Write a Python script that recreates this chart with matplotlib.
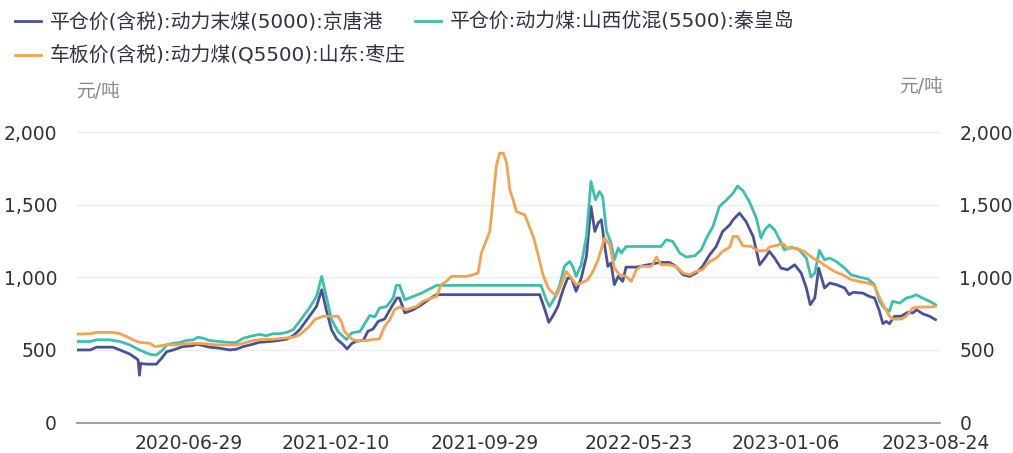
import pandas as pd
import matplotlib
matplotlib.use("Agg")
import matplotlib.pyplot as plt
from matplotlib.ticker import FuncFormatter

plt.rcParams['font.family'] = ['DejaVu Sans', 'Noto Sans CJK SC']

# 平仓价(含税):动力末煤(5000):京唐港
jtg_dates = [
    "2020-01-08", "2020-01-29", "2020-02-08", "2020-03-04", "2020-03-15", "2020-03-30",
    "2020-04-09", "2020-04-12", "2020-04-14", "2020-04-16", "2020-04-25", "2020-05-10",
    "2020-05-18", "2020-05-26", "2020-06-05", "2020-06-20", "2020-07-06", "2020-07-11",
    "2020-07-21", "2020-07-31", "2020-08-16", "2020-08-31", "2020-09-10", "2020-09-21",
    "2020-10-06", "2020-10-16", "2020-11-01", "2020-11-11", "2020-11-27", "2020-12-07",
    "2020-12-17", "2021-01-01", "2021-01-12", "2021-01-20", "2021-01-27", "2021-02-04",
    "2021-02-12", "2021-02-22", "2021-02-28", "2021-03-07", "2021-03-14", "2021-03-25",
    "2021-04-01", "2021-04-09", "2021-04-17", "2021-04-27", "2021-05-05", "2021-05-16",
    "2021-05-20", "2021-05-28", "2021-06-10", "2021-06-23", "2021-07-05", "2021-07-16",
    "2021-12-22", "2021-12-30", "2022-01-05", "2022-01-11", "2022-01-19", "2022-01-27",
    "2022-02-03", "2022-02-09", "2022-02-16", "2022-02-24", "2022-03-04", "2022-03-11",
    "2022-03-17", "2022-03-22", "2022-03-27", "2022-04-01", "2022-04-06", "2022-04-11",
    "2022-04-16", "2022-04-22", "2022-04-29", "2022-05-04", "2022-05-20", "2022-06-25",
    "2022-07-10", "2022-07-20", "2022-07-31", "2022-08-10", "2022-08-20", "2022-08-30",
    "2022-09-10", "2022-09-20", "2022-09-30", "2022-10-11", "2022-10-16", "2022-10-26",
    "2022-11-05", "2022-11-16", "2022-11-23", "2022-11-26", "2022-12-04", "2022-12-11",
    "2022-12-19", "2022-12-29", "2023-01-08", "2023-01-19", "2023-01-29", "2023-02-06",
    "2023-02-12", "2023-02-19", "2023-02-25", "2023-03-06", "2023-03-14", "2023-03-24",
    "2023-04-06", "2023-04-13", "2023-04-19", "2023-05-04", "2023-05-14", "2023-05-22",
    "2023-05-29", "2023-06-04", "2023-06-09", "2023-06-14", "2023-06-22", "2023-07-02",
    "2023-07-12", "2023-07-20", "2023-07-26", "2023-08-04", "2023-08-15", "2023-08-24",
]
jtg_vals = [
    500, 500, 519, 519, 500, 472,
    442, 430, 326, 407, 402, 402,
    442, 488, 500, 523, 530, 540,
    530, 519, 512, 500, 505, 523,
    540, 553, 558, 563, 574, 598,
    640, 732, 800, 915, 777, 640,
    576, 537, 507, 543, 560, 565,
    628, 644, 697, 713, 777, 858,
    858, 755, 777, 812, 851, 881,
    881, 777, 690, 732, 800, 915,
    995, 995, 904, 995, 1145, 1489,
    1317, 1374, 1397, 1225, 1076, 1099,
    950, 1007, 972, 1071, 1071, 1103,
    1103, 1076, 1018, 1007, 1030, 1076,
    1156, 1213, 1317, 1362, 1397, 1443,
    1385, 1282, 1145, 1087, 1133, 1179,
    1133, 1064, 1053, 1087, 1030, 927,
    812, 858, 1064, 927, 961, 950,
    927, 881, 897, 892, 869, 858,
    777, 681, 697, 681, 732, 732,
    759, 755, 777, 750, 732, 709,
]

# 平仓价:动力煤:山西优混(5500):秦皇岛
qhd_dates = [
    "2020-01-08", "2020-01-29", "2020-02-08", "2020-02-28", "2020-03-15", "2020-03-30",
    "2020-04-14", "2020-04-30", "2020-05-10", "2020-05-20", "2020-05-26", "2020-06-05",
    "2020-06-15", "2020-06-25", "2020-07-06", "2020-07-13", "2020-07-21", "2020-07-31",
    "2020-08-16", "2020-08-31", "2020-09-10", "2020-09-21", "2020-10-06", "2020-10-16",
    "2020-10-27", "2020-11-06", "2020-11-16", "2020-11-27", "2020-12-07", "2020-12-17",
    "2021-01-01", "2021-01-12", "2021-01-20", "2021-01-27", "2021-02-04", "2021-02-14",
    "2021-02-27", "2021-03-07", "2021-03-20", "2021-04-04", "2021-04-12", "2021-04-19",
    "2021-04-30", "2021-05-10", "2021-05-15", "2021-05-20", "2021-05-28", "2021-06-10",
    "2021-06-23", "2021-07-05", "2021-07-16", "2021-12-24", "2022-01-01", "2022-01-06",
    "2022-01-14", "2022-01-22", "2022-01-29", "2022-02-06", "2022-02-11", "2022-02-16",
    "2022-02-24", "2022-03-04", "2022-03-11", "2022-03-18", "2022-03-24", "2022-03-29",
    "2022-04-04", "2022-04-11", "2022-04-16", "2022-04-22", "2022-04-27", "2022-05-04",
    "2022-06-27", "2022-07-05", "2022-07-15", "2022-07-26", "2022-08-05", "2022-08-18",
    "2022-08-28", "2022-09-05", "2022-09-15", "2022-09-25", "2022-10-05", "2022-10-16",
    "2022-10-23", "2022-10-31", "2022-11-10", "2022-11-21", "2022-11-28", "2022-12-04",
    "2022-12-11", "2022-12-19", "2022-12-27", "2023-01-03", "2023-01-14", "2023-01-26",
    "2023-02-06", "2023-02-13", "2023-02-19", "2023-02-26", "2023-03-06", "2023-03-14",
    "2023-03-24", "2023-04-06", "2023-04-16", "2023-04-29", "2023-05-12", "2023-05-22",
    "2023-05-30", "2023-06-06", "2023-06-14", "2023-06-19", "2023-06-30", "2023-07-10",
    "2023-07-20", "2023-07-25", "2023-08-04", "2023-08-15", "2023-08-24",
]
qhd_vals = [
    558, 558, 570, 570, 558, 535,
    500, 470, 465, 500, 535, 546,
    551, 565, 570, 588, 581, 565,
    558, 551, 551, 581, 598, 607,
    598, 612, 612, 621, 640, 698,
    789, 869, 1007, 869, 709, 628,
    571, 617, 628, 738, 728, 789,
    800, 858, 945, 945, 846, 869,
    892, 920, 945, 945, 846, 800,
    858, 950, 1076, 1110, 1076, 1007,
    1087, 1282, 1661, 1534, 1592, 1557,
    1317, 1236, 1122, 1202, 1167, 1213,
    1213, 1259, 1248, 1167, 1140, 1149,
    1190, 1271, 1351, 1489, 1530, 1580,
    1630, 1599, 1523, 1408, 1271, 1328,
    1362, 1328, 1259, 1190, 1209, 1190,
    1133, 1002, 1030, 1186, 1122, 1133,
    1110, 1064, 1018, 1002, 989, 950,
    835, 789, 766, 835, 823, 858,
    869, 881, 858, 835, 812,
]

# 车板价(含税):动力煤(Q5500):山东:枣庄
zz_dates = [
    "2020-01-08", "2020-01-29", "2020-02-08", "2020-03-04", "2020-03-15", "2020-03-25",
    "2020-04-04", "2020-04-14", "2020-04-30", "2020-05-08", "2020-05-15", "2020-05-26",
    "2020-06-10", "2020-06-25", "2020-07-11", "2020-07-26", "2020-08-11", "2020-09-10",
    "2020-09-21", "2020-10-06", "2020-10-22", "2020-11-06", "2020-11-21", "2020-12-07",
    "2020-12-17", "2021-01-01", "2021-01-09", "2021-01-22", "2021-02-14", "2021-02-19",
    "2021-02-24", "2021-03-07", "2021-03-14", "2021-03-30", "2021-04-06", "2021-04-19",
    "2021-04-27", "2021-05-05", "2021-05-12", "2021-05-20", "2021-05-30", "2021-06-15",
    "2021-06-25", "2021-07-05", "2021-07-16", "2021-07-23", "2021-07-31", "2021-08-08",
    "2021-08-31", "2021-09-10", "2021-09-18", "2021-09-23", "2021-10-01", "2021-10-06",
    "2021-10-11", "2021-10-16", "2021-10-21", "2021-10-27", "2021-11-01", "2021-11-06",
    "2021-11-11", "2021-11-16", "2021-11-29", "2021-12-04", "2021-12-12", "2021-12-19",
    "2021-12-27", "2022-01-04", "2022-01-11", "2022-01-17", "2022-01-24", "2022-02-01",
    "2022-02-09", "2022-02-16", "2022-02-24", "2022-03-06", "2022-03-14", "2022-03-22",
    "2022-04-01", "2022-04-09", "2022-04-16", "2022-04-24", "2022-05-04", "2022-05-12",
    "2022-05-20", "2022-05-27", "2022-06-12", "2022-06-20", "2022-06-27", "2022-07-10",
    "2022-07-20", "2022-07-31", "2022-08-10", "2022-08-20", "2022-08-30", "2022-09-10",
    "2022-09-20", "2022-09-30", "2022-10-11", "2022-10-16", "2022-10-23", "2022-10-31",
    "2022-11-13", "2022-11-23", "2022-12-06", "2022-12-11", "2023-01-01", "2023-01-08",
    "2023-01-21", "2023-02-03", "2023-02-16", "2023-02-26", "2023-03-09", "2023-03-21",
    "2023-04-03", "2023-04-16", "2023-04-29", "2023-05-12", "2023-05-22", "2023-05-30",
    "2023-06-06", "2023-06-14", "2023-06-19", "2023-07-02", "2023-07-10", "2023-07-20",
    "2023-07-30", "2023-08-15", "2023-08-24",
]
zz_vals = [
    609, 612, 621, 621, 612, 593,
    570, 553, 546, 523, 528, 535,
    535, 542, 546, 542, 535, 535,
    546, 565, 574, 574, 581, 588,
    605, 663, 709, 732, 732, 697,
    628, 576, 564, 564, 571, 576,
    663, 709, 777, 796, 777, 800,
    835, 853, 869, 950, 972, 1007,
    1007, 1018, 1030, 1167, 1259, 1317,
    1535, 1764, 1856, 1856, 1787, 1603,
    1535, 1454, 1431, 1374, 1282, 1167,
    1018, 927, 892, 874, 950, 1041,
    995, 950, 961, 984, 1041, 1122,
    1271, 1225, 1064, 1018, 1007, 972,
    1053, 1076, 1076, 1140, 1087, 1087,
    1076, 1030, 1018, 1041, 1053, 1110,
    1133, 1179, 1209, 1282, 1282, 1218,
    1213, 1184, 1184, 1209, 1232, 1202,
    1202, 1179, 1133, 1110, 1076, 1041,
    1018, 984, 972, 961, 943, 858,
    800, 732, 713, 713, 732, 789,
    796, 796, 800,
]

series_names = [
    "平仓价(含税):动力末煤(5000):京唐港",
    "平仓价:动力煤:山西优混(5500):秦皇岛",
    "车板价(含税):动力煤(Q5500):山东:枣庄",
]
colors = ["#4b5197", "#3dbfae", "#f3a250"]
tick_dates = ["2020-06-29", "2021-02-10", "2021-09-29", "2022-05-23", "2023-01-06", "2023-08-24"]
y_ticks = [0, 500, 1000, 1500, 2000]

W, H = 1013, 453
fig = plt.figure(figsize=(W / 100, H / 100), dpi=100)
ax = fig.add_axes([76.5 / W, 1 - 422.5 / H, (940 - 76.5) / W, (422.5 - 132.3) / H])

lines = []
for d, v, c, name in zip([jtg_dates, qhd_dates, zz_dates],
                         [jtg_vals, qhd_vals, zz_vals], colors, series_names):
    ln, = ax.plot(pd.to_datetime(d), v, color=c, lw=2.0, label=name,
                  solid_joinstyle="round")
    lines.append(ln)

ax.set_xlim(pd.Timestamp("2020-01-08"), pd.Timestamp("2023-08-31"))
ax.set_ylim(0, 2000)
ax.set_yticks(y_ticks)
ax.yaxis.set_major_formatter(FuncFormatter(lambda v, p: f"{int(v):,}"))
ax.set_xticks(pd.to_datetime(tick_dates))
ax.set_xticklabels(tick_dates)

ax.grid(axis="y", color="#ebebf3", lw=1)
ax.set_axisbelow(True)
for s in ["top", "left", "right"]:
    ax.spines[s].set_visible(False)
ax.spines["bottom"].set_color("#8f96b2")
ax.spines["bottom"].set_linewidth(1.3)

ax.tick_params(axis="y", length=0, labelsize=13.5, labelcolor="#333333",
               labelleft=True, labelright=True, pad=14)
ax.tick_params(axis="x", length=0, labelsize=13.5, labelcolor="#333333", pad=8)

fig.text(76 / W, 1 - 91.5 / H, "元/吨", fontsize=13.5, color="#8a8a8a",
         ha="left", va="center")
fig.text(943 / W, 1 - 87 / H, "元/吨", fontsize=13.5, color="#8a8a8a",
         ha="right", va="center")

# column-wise fill: blue, orange in first column, teal in second
order = [0, 2, 1]
fig.legend([lines[i] for i in order], [series_names[i] for i in order],
           loc="upper left", bbox_to_anchor=(15 / W, 1 - 12 / H), ncol=2,
           frameon=False, fontsize=14.3, handlelength=1.3, handletextpad=0.45,
           columnspacing=0.45, labelspacing=0.75, borderpad=0, borderaxespad=0,
           labelcolor="#333344")

fig.savefig("out.png", dpi=100)
